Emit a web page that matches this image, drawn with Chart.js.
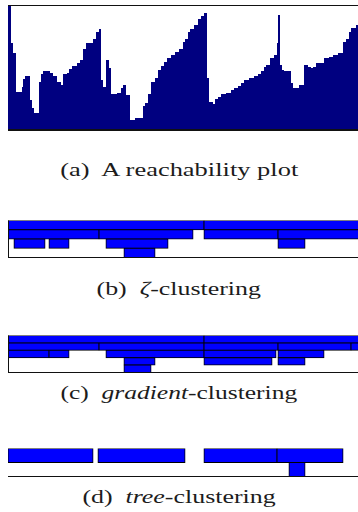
<!DOCTYPE html>
<html>
<head>
<meta charset="utf-8">
<script src="https://cdn.jsdelivr.net/npm/chart.js@4.4.1/dist/chart.umd.min.js"></script>
<style>
  html, body { margin: 0; padding: 0; background: #fff; }
  body { position: relative; width: 358px; height: 512px; overflow: hidden; }
  .panel { position: absolute; left: 0; width: 358px; }
  .caption {
    position: absolute; left: 0; width: 358px; height: 24px; line-height: 24px;
    text-align: center; white-space: nowrap;
    font-family: "Liberation Serif", "DejaVu Serif", serif; font-size: 18.5px; color: #1c1c1c;
  }
  .caption span { display: inline-block; transform-origin: 50% 50%; }
</style>
</head>
<body>
<div class="panel" style="top:0;height:132px"><canvas id="reach"></canvas></div>
<div class="caption" style="top:158px"><span style="transform:scaleX(1.43)">(a)&nbsp; A reachability plot</span></div>

<div class="panel" style="top:216px;height:44px"><canvas id="zeta"></canvas></div>
<div class="caption" style="top:277px"><span style="transform:scaleX(1.40)">(b)&nbsp; <i>ζ</i>-clustering</span></div>

<div class="panel" style="top:330px;height:46px"><canvas id="gradient"></canvas></div>
<div class="caption" style="top:381px"><span style="transform:scaleX(1.38)">(c)&nbsp; <i>gradient</i>-clustering</span></div>

<div class="panel" style="top:444px;height:36px"><canvas id="tree"></canvas></div>
<div class="caption" style="top:485px"><span style="transform:scaleX(1.40)">(d)&nbsp; <i>tree</i>-clustering</span></div>

<script>
// Visible part of the cluster ordering (positions 0 .. ORDER_END)
const ORDER_END = 350;
const REACH_MAX = 124;

// Reachability plot: each step starts at an ordering position and keeps
// its reachability distance until the next step begins.
const reachPos = [
  0, 3, 5, 8, 14, 15, 17, 22, 24, 26, 31, 33, 35, 42, 45, 49, 53, 55, 59, 61,
  64, 69, 72, 75, 78, 85, 88, 91, 93, 95, 98, 101, 103, 109, 113, 115, 118, 122, 127, 135,
  137, 140, 143, 147, 150, 153, 156, 159, 163, 167, 171, 175, 177, 180, 182, 186, 190, 193, 196, 199,
  201, 205, 207, 210, 213, 218, 223, 226, 230, 233, 236, 241, 246, 250, 253, 256, 258, 262, 266, 269,
  270, 272, 274, 276, 283, 285, 291, 296, 300, 303, 305, 308, 316, 321, 325, 330, 335, 338, 341, 343,
  348, 350
];
const reachDist = [
  124, 86, 76, 37, 42, 50, 53, 29, 21, 16, 47, 55, 58, 56, 53, 47, 44, 55, 56, 60,
  63, 66, 69, 80, 86, 90, 97, 100, 49, 42, 69, 61, 35, 36, 41, 44, 34, 9, 11, 23,
  26, 35, 47, 51, 59, 63, 67, 71, 74, 77, 80, 87, 90, 97, 100, 104, 110, 113, 116, 51,
  27, 25, 30, 32, 35, 36, 39, 41, 43, 46, 49, 51, 53, 55, 58, 62, 64, 71, 74, 86,
  114, 64, 59, 58, 46, 41, 44, 64, 62, 61, 62, 66, 71, 72, 74, 76, 87, 90, 97, 101,
  104, 104
];

// Clusters as [level, first position, last position]; level 0 is the top row.
// Clusters that run past the visible ordering end beyond ORDER_END.
const zetaLevels = ['L0', 'L1', 'L2', 'L3'];
const zetaClusters = [
  [0, 0, 196], [0, 196, 356],
  [1, 0, 91], [1, 91, 185], [1, 196, 270], [1, 270, 356],
  [2, 6, 37], [2, 41, 61], [2, 98, 160], [2, 270, 297],
  [3, 116, 147]
];

const gradientLevels = ['L0', 'L1', 'L2', 'L3', 'L4'];
const gradientClusters = [
  [0, 0, 196], [0, 196, 356],
  [1, 0, 91], [1, 91, 196], [1, 196, 270], [1, 270, 343], [1, 343, 356],
  [2, 0, 41], [2, 41, 61], [2, 98, 196], [2, 196, 268], [2, 270, 316],
  [3, 116, 147], [3, 196, 264], [3, 270, 297],
  [4, 116, 143]
];

const treeLevels = ['L0', 'L1'];
const treeClusters = [
  [0, 0, 85], [0, 90, 177], [0, 196, 269], [0, 269, 335],
  [1, 281, 297]
];

// Thin rule lines along chosen edges of the plot area
const framePlugin = {
  id: 'frame',
  afterDatasetsDraw(chart, args, opts) {
    const { ctx, chartArea: a } = chart;
    ctx.save();
    ctx.strokeStyle = opts.color || '#000';
    if (opts.top) {
      ctx.lineWidth = opts.topWidth || 1;
      ctx.beginPath();
      ctx.moveTo(a.left, a.top + 0.5);
      ctx.lineTo(a.right, a.top + 0.5);
      ctx.stroke();
    }
    if (opts.left) {
      ctx.lineWidth = 1;
      ctx.beginPath();
      ctx.moveTo(a.left + 0.5, a.top);
      ctx.lineTo(a.left + 0.5, a.bottom);
      ctx.stroke();
    }
    if (opts.bottom) {
      const w = opts.bottomWidth || 1;
      ctx.lineWidth = w;
      ctx.beginPath();
      ctx.moveTo(a.left, a.bottom + (w > 1 ? w / 2 : 0));
      ctx.lineTo(a.right, a.bottom + (w > 1 ? w / 2 : 0));
      ctx.stroke();
    }
    ctx.restore();
  }
};

Chart.defaults.animation = false;

new Chart(document.getElementById('reach'), {
  type: 'line',
  data: {
    datasets: [{
      data: reachPos.map((p, i) => ({ x: p, y: reachDist[i] })),
      stepped: true,
      fill: 'origin',
      backgroundColor: '#000080',
      borderWidth: 0,
      pointRadius: 0
    }]
  },
  options: {
    responsive: true,
    maintainAspectRatio: false,
    layout: { padding: { left: 8, right: 0, top: 5, bottom: 3 } },
    scales: {
      x: { type: 'linear', min: 0, max: ORDER_END, display: false },
      y: { type: 'linear', min: 0, max: REACH_MAX, display: false }
    },
    plugins: {
      legend: { display: false },
      tooltip: { enabled: false },
      frame: { top: true, bottom: true, bottomWidth: 2, color: '#111' }
    }
  },
  plugins: [framePlugin]
});

function clusterChart(id, levels, clusters, pad, frame) {
  return new Chart(document.getElementById(id), {
    type: 'bar',
    data: {
      labels: levels,
      datasets: [{
        data: clusters.map(([lvl, s, e]) => ({ y: levels[lvl], x: [s, e] })),
        backgroundColor: '#0000ff',
        borderColor: '#000',
        borderWidth: 1,
        borderSkipped: false,
        inflateAmount: 0.5,
        categoryPercentage: 1,
        barPercentage: 1
      }]
    },
    options: {
      indexAxis: 'y',
      responsive: true,
      maintainAspectRatio: false,
      layout: { padding: pad },
      scales: {
        x: { type: 'linear', min: 0, max: ORDER_END, display: false },
        y: { type: 'category', display: false }
      },
      plugins: {
        legend: { display: false },
        tooltip: { enabled: false },
        frame: frame
      }
    },
    plugins: [framePlugin]
  });
}

clusterChart('zeta', zetaLevels, zetaClusters,
  { left: 8, right: 0, top: 4.5, bottom: 2.5 }, { left: true, bottom: true, color: '#111' });
clusterChart('gradient', gradientLevels, gradientClusters,
  { left: 8, right: 0, top: 5.5, bottom: 3.5 }, { left: true, bottom: true, color: '#111' });
clusterChart('tree', treeLevels, treeClusters,
  { left: 8, right: 0, top: 4.5, bottom: 3.5 }, { bottom: true, color: '#111' });
</script>
</body>
</html>
